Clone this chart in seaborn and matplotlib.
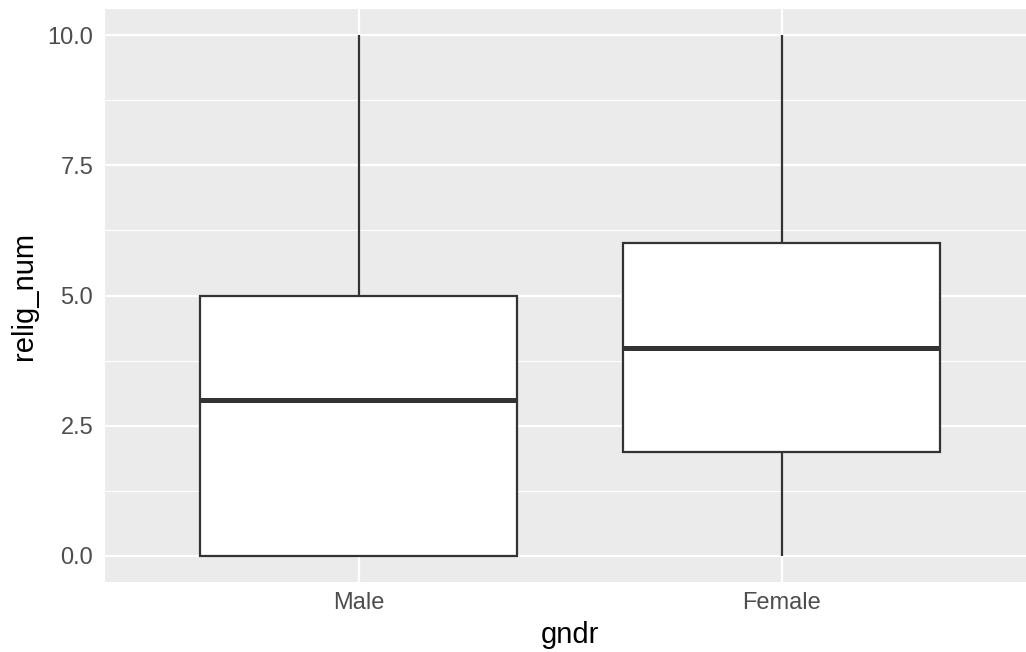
import pandas as pd
import numpy as np
import seaborn as sns
import matplotlib.pyplot as plt
from matplotlib.ticker import FixedLocator

# box summaries: lower whisker, Q1, median, Q3, upper whisker
groups = ['Male', 'Female']
lower = [0, 0]
q1 = [0, 2]
median = [3, 4]
q3 = [5, 6]
upper = [10, 10]

y_ticks = [0.0, 2.5, 5.0, 7.5, 10.0]
y_minor = [1.25, 3.75, 6.25, 8.75]

# five values per group whose quartiles/whiskers reproduce the summaries
rows = []
for g, a, b, c, d, e in zip(groups, lower, q1, median, q3, upper):
    for v in (a, b, c, d, e):
        rows.append({'gndr': g, 'relig_num': v})
df = pd.DataFrame(rows)

sns.set_theme(style='darkgrid', rc={
    'axes.facecolor': '#EBEBEB',
    'grid.color': 'white',
    'axes.edgecolor': '#EBEBEB',
})
plt.rcParams['font.family'] = ['Liberation Sans', 'DejaVu Sans']

fig = plt.figure(figsize=(10.26, 6.52), dpi=100)
# panel runs past the right edge of the picture, as in the reference
ax = fig.add_axes([105 / 1026, 70 / 652, 930.6 / 1026, 573 / 652])

sns.boxplot(data=df, x='gndr', y='relig_num', order=groups, ax=ax,
            color='white', linecolor='#333333', linewidth=1.6, width=0.75,
            whis=1.5, showcaps=False, fliersize=0,
            medianprops=dict(linewidth=3.6, color='#333333'))

ax.set_xlim(-0.6, 1.6)
ax.set_ylim(-0.5, 10.5)
ax.set_yticks(y_ticks)
ax.set_yticklabels([f'{t:.1f}' for t in y_ticks])
ax.yaxis.set_minor_locator(FixedLocator(y_minor))

ax.set_axisbelow(True)
ax.grid(which='major', color='white', linewidth=1.6)
ax.grid(which='minor', axis='y', color='white', linewidth=0.8)

for s in ax.spines.values():
    s.set_visible(False)

ax.tick_params(axis='both', which='major', length=4.5, width=1.1, color='#333333',
               labelsize=17, labelcolor='#4D4D4D')
ax.tick_params(axis='y', which='major', pad=4)
ax.tick_params(axis='x', which='major', pad=3)
ax.tick_params(which='minor', length=0)

ax.set_xlabel('gndr', fontsize=21, color='black', labelpad=5)
ax.set_ylabel('relig_num', fontsize=21, color='black', labelpad=7)

fig.savefig('out.png', dpi=100)
